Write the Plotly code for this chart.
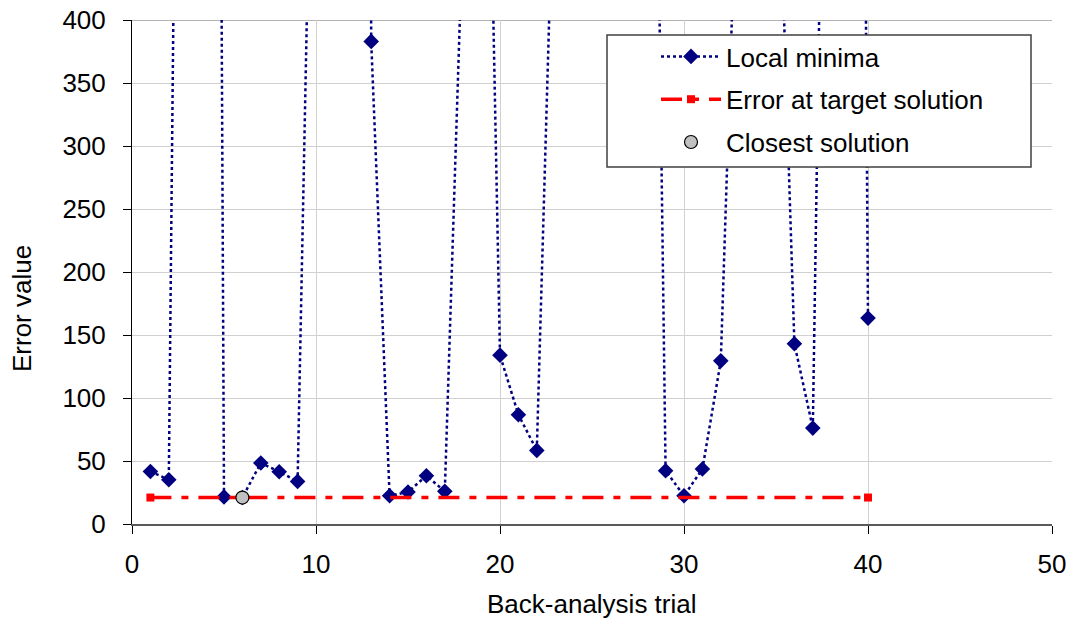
import plotly.graph_objects as go

# ---------------- data ----------------
trial = list(range(1, 41))
local_minima = [41.7, 35.1, 1520, 3000, 21.5, 21.0, 48.4, 41.5, 33.8, 780,
                1500, 5000, 383, 22.4, 25.4, 38.3, 25.9, 484, 873, 134,
                86.7, 58.4, 568, 1200, 1500, 1500, 1200, 1139, 42.3, 22.4,
                43.6, 129.5, 580, 900, 602, 143, 76.1, 1020, 2300, 163.4]
target_x = [1, 40]
target_err = [21, 21]
closest_x = [6]
closest_err = [21]
x_ticks = [0, 10, 20, 30, 40, 50]
y_ticks = [0, 50, 100, 150, 200, 250, 300, 350, 400]

FONT = "Liberation Sans, Arial, sans-serif"
W, H = 1071, 623
ML, MR, MT, MB = 132, 19, 20, 99
PW, PH = W - ML - MR, H - MT - MB


def px_x(p):
    return (p - ML) / PW


def px_y(p):
    return (H - MB - p) / PH


fig = go.Figure()

fig.add_trace(go.Scatter(
    x=trial, y=local_minima, name="Local minima", mode="lines+markers",
    line=dict(color="#000080", width=2.5, dash="3px,3px"),
    marker=dict(symbol="diamond", size=12, color="#000080"),
    legendgroup="a",
))
fig.add_trace(go.Scatter(
    x=target_x, y=target_err, name="Error at target solution", mode="lines+markers",
    line=dict(color="#FF0000", width=3.5, dash="21px,10px,7px,10px"),
    marker=dict(symbol="square", size=8, color="#FF0000"),
    legendgroup="b",
))
fig.add_trace(go.Scatter(
    x=closest_x, y=closest_err, name="Closest solution", mode="markers",
    marker=dict(symbol="circle", size=13, color="#C0C0C0",
                line=dict(color="#000000", width=1.2)),
    legendgroup="c",
))

axis_font = dict(family=FONT, size=26, color="#000000")

fig.update_layout(
    width=W, height=H,
    margin=dict(l=ML, r=MR, t=MT, b=MB, pad=0, autoexpand=False),
    paper_bgcolor="white", plot_bgcolor="white",
    font=dict(family=FONT, size=26, color="#000000"),
    showlegend=True,
    legend=dict(
        x=px_x(656), y=px_y(33), xanchor="left", yanchor="top",
        bgcolor="rgba(0,0,0,0)", borderwidth=0,
        font=dict(family=FONT, size=26, color="#000000"),
        itemwidth=60, tracegroupgap=6, traceorder="grouped",
    ),
    xaxis=dict(
        range=[0, 50], tickvals=x_ticks, ticks="outside", ticklen=8,
        tickcolor="#000000", tickwidth=1, showline=True, linecolor="#595959",
        linewidth=1.5, showgrid=True, gridcolor="#D0D0D0", gridwidth=1,
        zeroline=False, tickfont=axis_font, ticklabelstandoff=8,
        automargin=False,
    ),
    yaxis=dict(
        range=[0, 400], tickvals=y_ticks, ticks="outside", ticklen=8,
        tickcolor="#000000", tickwidth=1, showline=True, linecolor="#000000",
        linewidth=1, showgrid=True, gridcolor="#D0D0D0", gridwidth=1,
        zeroline=False, tickfont=axis_font, ticklabelstandoff=12,
        automargin=False,
    ),
    shapes=[
        dict(type="line", xref="paper", yref="y", x0=0, x1=1, y0=400, y1=400,
             line=dict(color="#9A9A9A", width=1.5), layer="below"),
        dict(type="rect", xref="paper", yref="paper",
             x0=px_x(607), x1=px_x(1031), y0=px_y(167), y1=px_y(35),
             fillcolor="white", line=dict(color="#404040", width=1.5),
             layer="above"),
    ],
    annotations=[
        dict(text="Back-analysis trial", xref="paper", yref="paper",
             x=px_x(592), y=px_y(604), xanchor="center", yanchor="middle",
             showarrow=False, font=axis_font),
        dict(text="Error value", xref="paper", yref="paper",
             x=px_x(22), y=px_y(309), xanchor="center", yanchor="middle",
             textangle=-90, showarrow=False, font=axis_font),
    ],
)

fig.write_html("out.html")
